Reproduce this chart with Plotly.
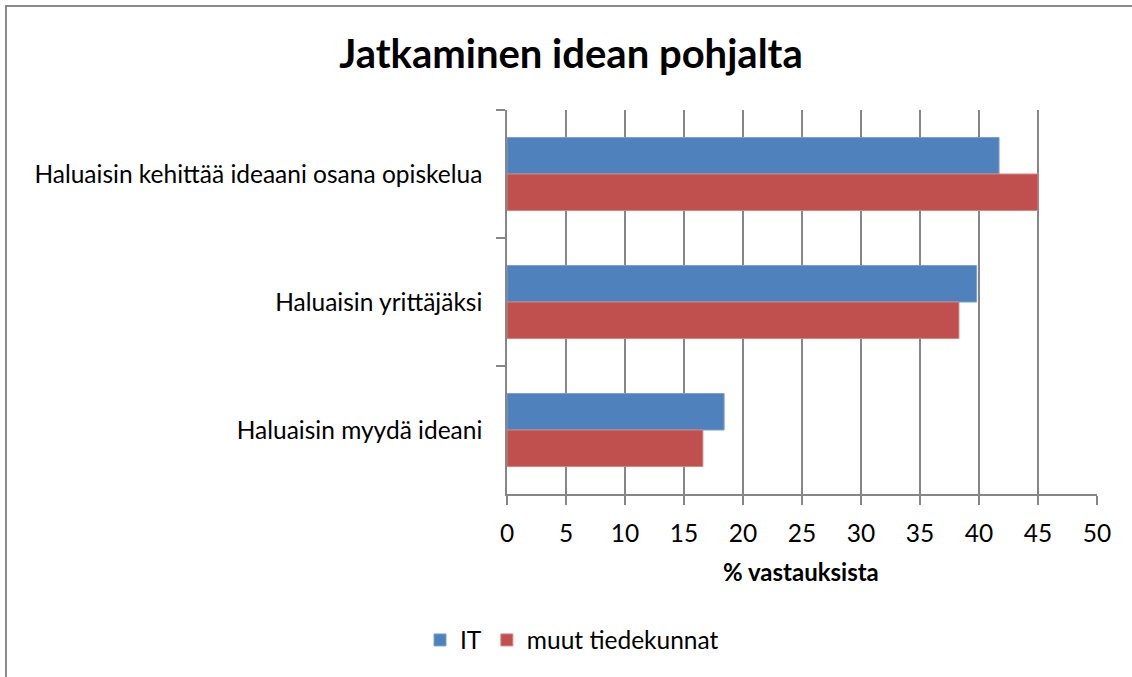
import plotly.graph_objects as go

categories = ["Haluaisin kehittää ideaani osana opiskelua", "Haluaisin yrittäjäksi", "Haluaisin myydä ideani"]
it_values = [41.7, 39.8, 18.4]
muut_values = [45.0, 38.3, 16.6]
series_names = ["IT", "muut tiedekunnat"]
tick_vals = list(range(0, 51, 5))

FONT = "Lato"
W, H = 1132, 677
L, R, T, B = 507, 1097, 110, 494  # plot area in page pixels

fig = go.Figure()
fig.add_trace(go.Bar(y=categories, x=it_values, name=series_names[0], orientation="h",
                     marker=dict(color="#4F81BD", line=dict(color="#7BA0CD", width=1))))
fig.add_trace(go.Bar(y=categories, x=muut_values, name=series_names[1], orientation="h",
                     marker=dict(color="#C0504D", line=dict(color="#D38482", width=1))))

pw, ph = R - L, B - T
def px(x):
    return (x - L) / pw
def py(y):
    return (B - y) / ph

border = dict(color="#8A8A8A", width=2)
fig.update_layout(
    width=W, height=H,
    margin=dict(l=L, r=W - R, t=T, b=H - B, pad=0),
    paper_bgcolor="white", plot_bgcolor="white",
    barmode="group", bargap=0.43, bargroupgap=0,
    font=dict(family=FONT, size=24.5, color="black"),
    title=dict(text="<b>Jatkaminen idean pohjalta</b>", x=571 / W, xref="container", xanchor="center",
               y=1 - 54 / H, yref="container", yanchor="middle",
               font=dict(family=FONT, size=40, color="black")),
    legend=dict(orientation="h", x=px(572), xanchor="center", y=py(640), yanchor="middle",
                font=dict(family=FONT, size=24.5), traceorder="normal", itemwidth=30),
    shapes=[
        dict(type="line", xref="paper", yref="paper", x0=px(5), x1=px(1140), y0=py(6), y1=py(6),
             line=border, layer="below"),
        dict(type="line", xref="paper", yref="paper", x0=px(6), x1=px(6), y0=py(5), y1=py(690),
             line=border, layer="below"),
    ],
    annotations=[dict(text="<b>% vastauksista</b>", xref="paper", yref="paper", x=px(801), y=py(571),
                      xanchor="center", yanchor="middle", showarrow=False,
                      font=dict(family=FONT, size=24, color="black"))],
)
fig.update_xaxes(range=[0, 50], tickvals=tick_vals, showgrid=True, gridcolor="#868686", gridwidth=1.5,
                 showline=True, linecolor="#868686", linewidth=1.5, ticks="outside", ticklen=9,
                 tickcolor="#868686", tickwidth=1.5, zeroline=False, tickfont=dict(size=24.5),
                 ticklabelstandoff=8)
fig.update_yaxes(autorange="reversed", showline=True, linecolor="#868686", linewidth=1.5,
                 ticks="outside", tickson="boundaries", ticklen=9, tickcolor="#868686", tickwidth=1.5,
                 showgrid=False, tickfont=dict(size=24.5), ticklabelstandoff=18)

fig.write_html("out.html", config={"displayModeBar": False},
               post_script="document.body.style.margin='0';document.body.style.overflow='hidden';")
